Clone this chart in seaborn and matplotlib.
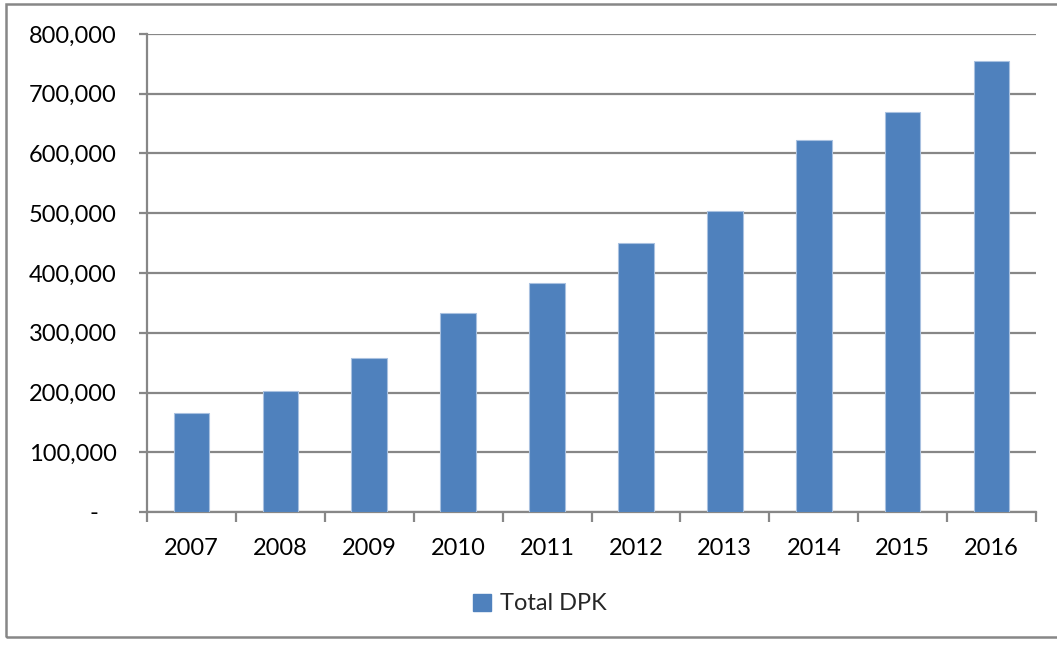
import matplotlib
matplotlib.use("Agg")
import matplotlib.pyplot as plt
from matplotlib.patches import Rectangle, Patch
from matplotlib.ticker import FuncFormatter, FixedLocator
import seaborn as sns
import pandas as pd

years = ["2007", "2008", "2009", "2010", "2011", "2012", "2013", "2014", "2015", "2016"]
total_dpk = [165700, 202500, 257500, 333000, 383500, 450500, 504000, 622500, 669000, 754000]
series_name = "Total DPK"

df = pd.DataFrame({"year": years, "value": total_dpk})

sns.set_theme(style="white")
plt.rcParams["font.family"] = ["Lato", "DejaVu Sans"]

BAR = "#4F81BD"
GRID = "#878787"

fig = plt.figure(figsize=(10.57, 6.45), dpi=100)
ax = fig.add_axes([147 / 1057, 1 - 512 / 645, (1036 - 147) / 1057, (512 - 34) / 645])

sns.barplot(data=df, x="year", y="value", color=BAR, width=0.4, saturation=1,
            edgecolor="#A9C1E0", linewidth=0.8, ax=ax, zorder=3)

ax.set_xlim(-0.5, len(years) - 0.5)
ax.set_ylim(0, 800000)
ax.set_yticks(range(0, 800001, 100000))
# accounting-style labels: zero shown as a dash with trailing padding
ax.yaxis.set_major_formatter(FuncFormatter(lambda v, p: "-   " if v == 0 else f"{int(v):,}"))
ax.grid(axis="y", color=GRID, linewidth=1.6, zorder=0)
ax.grid(axis="x", visible=False)
ax.set_xlabel("")
ax.set_ylabel("")

for side in ["top", "right"]:
    ax.spines[side].set_visible(False)
for side in ["left", "bottom"]:
    ax.spines[side].set_color(GRID)
    ax.spines[side].set_linewidth(1.6)

# category boundary ticks on x, label-only majors at bar centres
ax.xaxis.set_minor_locator(FixedLocator([i - 0.5 for i in range(len(years) + 1)]))
ax.tick_params(axis="x", which="major", length=0, pad=19, labelsize=17, labelcolor="black")
ax.tick_params(axis="x", which="minor", length=7, width=1.6, color=GRID, bottom=True)
ax.tick_params(axis="y", which="major", length=6, width=1.6, color=GRID, left=True,
               pad=16, labelsize=17, labelcolor="black")

handle = Patch(facecolor=BAR, edgecolor=BAR, label=series_name)
fig.legend(handles=[handle], loc="center", bbox_to_anchor=(540 / 1057, 1 - 604 / 645),
           frameon=False, fontsize=17, handlelength=0.75, handleheight=0.75,
           handletextpad=0.4)

# chart border
fig.patches.append(Rectangle((6 / 1057, 1 - 637 / 645), 1.2, (637 - 4) / 645,
                             transform=fig.transFigure, fill=False,
                             edgecolor=GRID, linewidth=1.8))

fig.savefig("out.png", dpi=100)
